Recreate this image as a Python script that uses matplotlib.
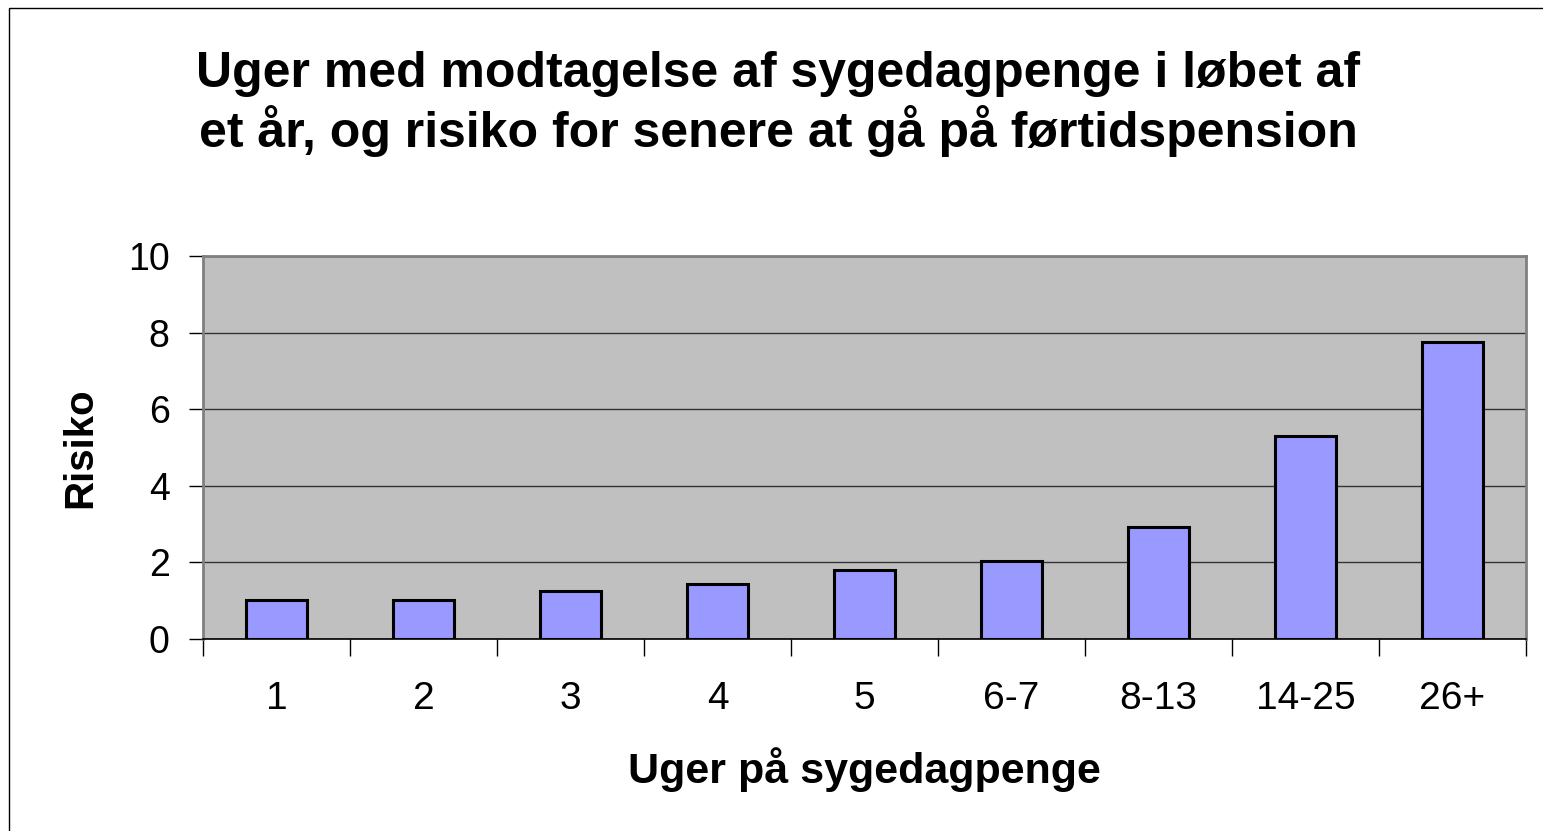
import matplotlib
matplotlib.use("Agg")
import matplotlib.pyplot as plt
from matplotlib.patches import Rectangle
from matplotlib.ticker import FixedLocator

categories = ["1", "2", "3", "4", "5", "6-7", "8-13", "14-25", "26+"]
risiko = [1.02, 1.02, 1.26, 1.43, 1.81, 2.04, 2.93, 5.30, 7.75]
yticks = [0, 2, 4, 6, 8, 10]
title = "Uger med modtagelse af sygedagpenge i løbet af\net år, og risiko for senere at gå på førtidspension"
xlabel = "Uger på sygedagpenge"
ylabel = "Risiko"

plt.rcParams['font.family'] = ['Liberation Sans', 'DejaVu Sans']

W, H = 1543, 831
fig = plt.figure(figsize=(W / 100, H / 100), dpi=100)
fig.patch.set_facecolor("white")

# outer chart frame (extends past right/bottom edges)
fig.patches.append(Rectangle((9 / W, 1 - 8 / H - 1.2), 1.2, 1.2, transform=fig.transFigure,
                             fill=False, edgecolor="black", linewidth=1.0))

ax = fig.add_axes([203 / W, 1 - 639 / H, (1526 - 203) / W, (639 - 256) / H])
ax.set_facecolor("#C0C0C0")

x = list(range(len(categories)))
ax.bar(x, risiko, width=0.41, color="#9999FF", edgecolor="black", linewidth=2.2, zorder=3)

ax.set_xlim(-0.5, len(categories) - 0.5)
ax.set_ylim(0, 10)
ax.set_yticks(yticks)
ax.set_yticklabels([str(t) for t in yticks], fontsize=27)
ax.yaxis.grid(True, color="#333333", linewidth=1.0, zorder=1)
ax.set_axisbelow(True)

ax.set_xticks(x)
ax.set_xticklabels(categories, fontsize=28)
ax.tick_params(axis="x", which="major", length=0, pad=30)
ax.xaxis.set_minor_locator(FixedLocator([i - 0.5 for i in range(len(categories) + 1)]))
ax.tick_params(axis="x", which="minor", length=12, width=1.0, color="black", direction="out")
ax.tick_params(axis="y", length=10, width=1.0, color="black", direction="out", pad=14)

for side in ["left", "top", "right"]:
    ax.spines[side].set_color("#808080")
    ax.spines[side].set_linewidth(2.0)
ax.spines["bottom"].set_color("black")
ax.spines["bottom"].set_linewidth(1.2)

ax.set_xlabel(xlabel, fontsize=31, fontweight="bold", labelpad=22)
ax.set_ylabel(ylabel, fontsize=29, fontweight="bold", labelpad=21)

fig.text(778 / W, 1 - 104 / H, title, ha="center", va="center", fontsize=36,
         fontweight="bold", linespacing=1.2)

fig.savefig("out.png", dpi=100)
